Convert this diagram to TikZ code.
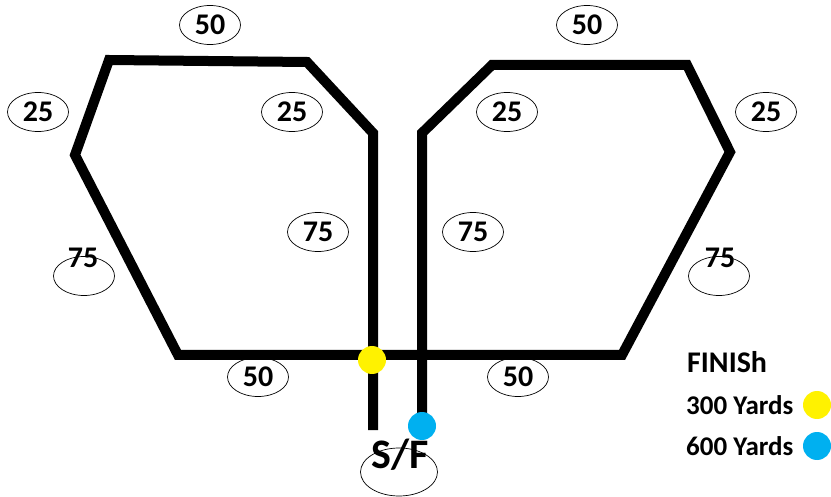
\documentclass[tikz,border=0pt]{standalone}
\usepackage{fontspec}
\setmainfont{Carlito}
\usetikzlibrary{shapes.geometric}
\definecolor{finyellow}{HTML}{FFF200}
\definecolor{finblue}{HTML}{00B0F0}
\tikzset{
  track/.style={line width=10pt, line join=miter},
  oval/.style={draw, ellipse, line width=0.7pt, minimum width=61pt, minimum height=39pt, inner sep=0pt},
  dist/.style={font=\fontsize{30}{30}\selectfont\bfseries, inner sep=0pt},
  legend/.style={font=\fontsize{27}{27}\selectfont\bfseries, anchor=west, inner sep=0pt},
  finish/.style={circle, inner sep=0pt, minimum size=28pt}
}

\begin{document}
\begin{tikzpicture}[x=1pt, y=-1pt]
  \useasboundingbox (0,0) rectangle (831,497);

  % the two loops, sharing the bottom straight
  \draw[track] (373,430) -- (373,133) -- (307,62) -- (109,60) -- (75,155)
    -- (178,355) -- (622,355) -- (730,152) -- (687,65) -- (492,65)
    -- (422,133) -- (422,426);

  % left loop distances
  \node[oval, dist] (topL) at (210,25) {50};
  \node[oval, dist] (outL) at (38,112) {25};
  \node[oval, dist] (cornL) at (292,112) {25};
  \node[oval, dist] (innL) at (318,232) {75};
  \node[oval] (diagL) at (84,276) {};
  \node[dist] (diagLtxt) at (83,258) {75};
  \node[oval, dist] (botL) at (258,377) {50};

  % right loop distances
  \node[oval, dist] (topR) at (587,25) {50};
  \node[oval, dist] (cornR) at (507,112) {25};
  \node[oval, dist] (outR) at (766,112) {25};
  \node[oval, dist] (innR) at (473,232) {75};
  \node[oval] (diagR) at (719,276) {};
  \node[dist] (diagRtxt) at (720,258) {75};
  \node[oval, dist] (botR) at (518,377) {50};

  % start / finish
  \node[draw, ellipse, line width=0.7pt, minimum width=77pt, minimum height=48pt] (sfoval) at (399,472) {};
  \node[font=\fontsize{42}{42}\selectfont\bfseries, inner sep=0pt] (sf) at (400,455) {S/F};
  \node[finish, fill=finyellow] (fin300) at (372,360) {};
  \node[finish, fill=finblue] (fin600) at (422,426) {};

  % legend
  \node[legend, font=\fontsize{30}{30}\selectfont\bfseries] (leghead) at (687,362) {FINISh};
  \node[legend] (leg300) at (686,405) {300 Yards};
  \node[legend] (leg600) at (686,446) {600 Yards};
  \node[finish, fill=finyellow] (dot300) at (817,405) {};
  \node[finish, fill=finblue] (dot600) at (817,446) {};
\end{tikzpicture}
\end{document}
